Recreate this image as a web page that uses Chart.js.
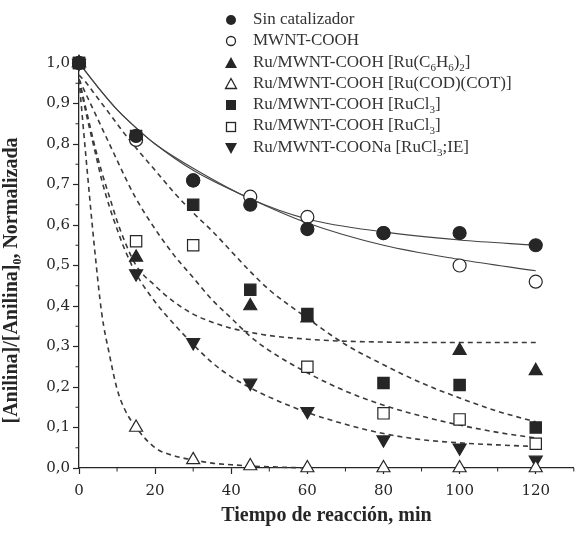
<!DOCTYPE html>
<html>
<head>
<meta charset="utf-8">
<script src="https://cdn.jsdelivr.net/npm/chart.js@4.4.0/dist/chart.umd.min.js"></script>
<style>
    html, body { margin: 0; padding: 0; background: #fff; }
    #wrap { position: relative; width: 583px; height: 533px; }
    #legend { position: absolute; left: 222px; top: 8px; font-family: "Liberation Serif", serif; font-size: 17px; color: #333; }
    #legend div { height: 21.3px; line-height: 21.3px; white-space: nowrap; }
    #legend svg { vertical-align: middle; margin-right: 13px; }
    #legend sub { font-size: 11px; line-height: 0; }
</style>
</head>
<body>
<div id="wrap">
    <canvas id="chart" width="583" height="533"></canvas>
    <div id="legend"></div>
</div>
<script>
// measured points
const tiempo = [0, 15, 30, 45, 60, 80, 100, 120];
const sinCatalizador = [1.0, 0.82, 0.71, 0.65, 0.59, 0.58, 0.58, 0.55];
const mwntCooh = [1.0, 0.81, 0.71, 0.67, 0.62, 0.58, 0.50, 0.46];
const ruC6H6 = [1.0, 0.52, null, 0.40, 0.37, null, 0.29, 0.24];
const ruCodCot = [1.0, 0.10, 0.02, 0.005, 0.0, 0.0, 0.0, 0.0];
const ruCl3 = [1.0, 0.82, 0.65, 0.44, 0.38, 0.21, 0.205, 0.10];
const ruCl3b = [1.0, 0.56, 0.55, null, 0.25, 0.135, 0.12, 0.06];
const ruCl3IE = [1.0, 0.48, 0.31, 0.21, 0.14, 0.07, 0.05, 0.02];

// fitted curves
const tiempoAjusteSolido = [0, 5, 10, 15, 20, 30, 45, 60, 80, 100, 120];
const ajusteSinCat = [1.0, 0.94, 0.885, 0.84, 0.80, 0.74, 0.665, 0.615, 0.583, 0.563, 0.55];
const ajusteMwnt = [1.0, 0.94, 0.885, 0.84, 0.80, 0.735, 0.665, 0.605, 0.55, 0.515, 0.487];

const tiempoAjuste = [0, 2, 4, 6, 8, 10, 12, 15, 20, 25, 30, 35, 40, 45, 50, 60, 70, 80, 90, 100, 110, 120];
const ajusteRuC6H6 = [0.96, 0.88, 0.80, 0.73, 0.67, 0.61, 0.56, 0.50, 0.45, 0.41, 0.38, 0.36, 0.345, 0.335, 0.327, 0.318, 0.313, 0.311, 0.31, 0.31, 0.31, 0.31];
const ajusteRuCodCot = [0.96, 0.75, 0.55, 0.38, 0.28, 0.195, 0.145, 0.10, 0.05, 0.03, 0.02, 0.012, 0.008, 0.005, 0.003, 0.0, null, null, null, null, null, null];
const ajusteRuCl3 = [0.97, 0.95, 0.925, 0.90, 0.875, 0.85, 0.825, 0.79, 0.735, 0.68, 0.63, 0.585, 0.535, 0.485, 0.44, 0.37, 0.305, 0.255, 0.21, 0.173, 0.14, 0.114];
const ajusteRuCl3b = [0.96, 0.92, 0.88, 0.84, 0.80, 0.76, 0.72, 0.665, 0.59, 0.525, 0.47, 0.415, 0.37, 0.325, 0.29, 0.235, 0.19, 0.155, 0.128, 0.106, 0.088, 0.074];
const ajusteRuCl3IE = [0.96, 0.87, 0.79, 0.71, 0.645, 0.59, 0.54, 0.48, 0.41, 0.355, 0.305, 0.26, 0.225, 0.198, 0.175, 0.137, 0.108, 0.085, 0.07, 0.062, 0.057, 0.053];

const xTicks = [0, 20, 40, 60, 80, 100, 120];
const xMinorTicks = [10, 30, 50, 70, 90, 110, 130];
const yTicks = [0, 0.1, 0.2, 0.3, 0.4, 0.5, 0.6, 0.7, 0.8, 0.9, 1.0];
const yMinorTicks = [0.05, 0.15, 0.25, 0.35, 0.45, 0.55, 0.65, 0.75, 0.85, 0.95];

const ink = '#262626';

function pts(xs, ys) {
    return xs.map((x, i) => ({ x: x, y: ys[i] })).filter(p => p.y !== null);
}

function marker(label, ys, style, filled, rotation) {
    return {
        label: label,
        data: pts(tiempo, ys),
        showLine: false,
        pointStyle: style,
        rotation: rotation || 0,
        pointRadius: style === 'rect' ? 8 : (style === 'triangle' ? 7.5 : 6.5),
        pointBackgroundColor: filled ? ink : '#fff',
        pointBorderColor: ink,
        pointBorderWidth: 1.2,
        clip: false
    };
}

function fit(xs, ys, dashed) {
    return {
        label: '',
        data: pts(xs, ys),
        showLine: true,
        pointRadius: 0,
        borderColor: dashed ? '#3a3a3a' : '#444',
        borderWidth: dashed ? 1.6 : 1.1,
        borderDash: dashed ? [5, 4] : [],
        cubicInterpolationMode: 'monotone',
        clip: false
    };
}

// minor ticks on both axes
const minorTicks = {
    id: 'minorTicks',
    afterDraw(chart) {
        const ctx = chart.ctx;
        const xs = chart.scales.x, ys = chart.scales.y;
        ctx.save();
        ctx.strokeStyle = ink;
        ctx.lineWidth = 1;
        ctx.beginPath();
        xMinorTicks.forEach(v => {
            const px = xs.getPixelForValue(v);
            ctx.moveTo(px, xs.top);
            ctx.lineTo(px, xs.top + 3.5);
        });
        yMinorTicks.forEach(v => {
            const py = ys.getPixelForValue(v);
            ctx.moveTo(ys.right, py);
            ctx.lineTo(ys.right - 3.5, py);
        });
        ctx.stroke();
        ctx.restore();
    }
};

const ctx = document.getElementById('chart').getContext('2d');
new Chart(ctx, {
    type: 'scatter',
    data: {
        datasets: [
            marker('Sin catalizador', sinCatalizador, 'circle', true),
            marker('MWNT-COOH', mwntCooh, 'circle', false),
            marker('Ru/MWNT-COOH [Ru(C6H6)2]', ruC6H6, 'triangle', true),
            marker('Ru/MWNT-COOH [Ru(COD)(COT)]', ruCodCot, 'triangle', false),
            marker('Ru/MWNT-COOH [RuCl3]', ruCl3, 'rect', true),
            marker('Ru/MWNT-COOH [RuCl3]', ruCl3b, 'rect', false),
            marker('Ru/MWNT-COONa [RuCl3;IE]', ruCl3IE, 'triangle', true, 180),
            fit(tiempoAjusteSolido, ajusteSinCat, false),
            fit(tiempoAjusteSolido, ajusteMwnt, false),
            fit(tiempoAjuste, ajusteRuC6H6, true),
            fit(tiempoAjuste, ajusteRuCodCot, true),
            fit(tiempoAjuste, ajusteRuCl3, true),
            fit(tiempoAjuste, ajusteRuCl3b, true),
            fit(tiempoAjuste, ajusteRuCl3IE, true)
        ]
    },
    options: {
        responsive: false,
        animation: false,
        layout: { padding: { top: 63, right: 3, left: 0, bottom: 0 } },
        plugins: {
            legend: { display: false },
            tooltip: { enabled: false }
        },
        scales: {
            x: {
                type: 'linear',
                min: 0,
                max: 130,
                afterBuildTicks: s => { s.ticks = xTicks.map(v => ({ value: v })); },
                afterFit: s => { s.height = 65; },
                ticks: {
                    color: ink,
                    padding: 8,
                    font: { family: 'DejaVu Serif', size: 15 }
                },
                grid: { drawOnChartArea: false, tickLength: 6, color: ink, tickWidth: 1.2 },
                border: { color: ink, width: 1.3 },
                title: {
                    display: true,
                    text: 'Tiempo de reacción, min',
                    color: ink,
                    padding: { top: 4, bottom: 5 },
                    font: { family: 'Liberation Serif', size: 20, weight: 'bold' }
                }
            },
            y: {
                min: 0,
                max: 1.0,
                afterBuildTicks: s => { s.ticks = yTicks.map(v => ({ value: v })); },
                afterFit: s => { s.width = 79; },
                ticks: {
                    color: ink,
                    padding: 3,
                    font: { family: 'DejaVu Serif', size: 15 },
                    callback: v => v.toFixed(1).replace('.', ',')
                },
                grid: { drawOnChartArea: false, tickLength: 6, color: ink, tickWidth: 1.2 },
                border: { color: ink, width: 1.3 },
                title: {
                    display: true,
                    text: '[Anilina]/[Anilina]\u2080, Normalizada\u2002\u2002\u2002',
                    color: ink,
                    padding: { top: 0, bottom: 2 },
                    font: { family: 'Liberation Serif', size: 20, weight: 'bold' }
                }
            }
        }
    },
    plugins: [minorTicks]
});

// legend as text next to drawn markers
const legendRows = [
    ['<circle cx="9" cy="9" r="5" fill="' + ink + '"/>', 'Sin catalizador'],
    ['<circle cx="9" cy="9" r="4.5" fill="#fff" stroke="' + ink + '" stroke-width="1.3"/>', 'MWNT-COOH'],
    ['<polygon points="9,3 15,14 3,14" fill="' + ink + '"/>', 'Ru/MWNT-COOH [Ru(C<sub>6</sub>H<sub>6</sub>)<sub>2</sub>]'],
    ['<polygon points="9,3.5 14.5,13.5 3.5,13.5" fill="#fff" stroke="' + ink + '" stroke-width="1.3"/>', 'Ru/MWNT-COOH [Ru(COD)(COT)]'],
    ['<rect x="4" y="4" width="10" height="10" fill="' + ink + '"/>', 'Ru/MWNT-COOH [RuCl<sub>3</sub>]'],
    ['<rect x="4.5" y="4.5" width="9" height="9" fill="#fff" stroke="' + ink + '" stroke-width="1.3"/>', 'Ru/MWNT-COOH [RuCl<sub>3</sub>]'],
    ['<polygon points="3,4 15,4 9,15" fill="' + ink + '"/>', 'Ru/MWNT-COONa [RuCl<sub>3</sub>;IE]']
];
document.getElementById('legend').innerHTML = legendRows.map(r =>
    '<div><svg width="18" height="18" viewBox="0 0 18 18">' + r[0] + '</svg>' + r[1] + '</div>'
).join('');
</script>
</body>
</html>
